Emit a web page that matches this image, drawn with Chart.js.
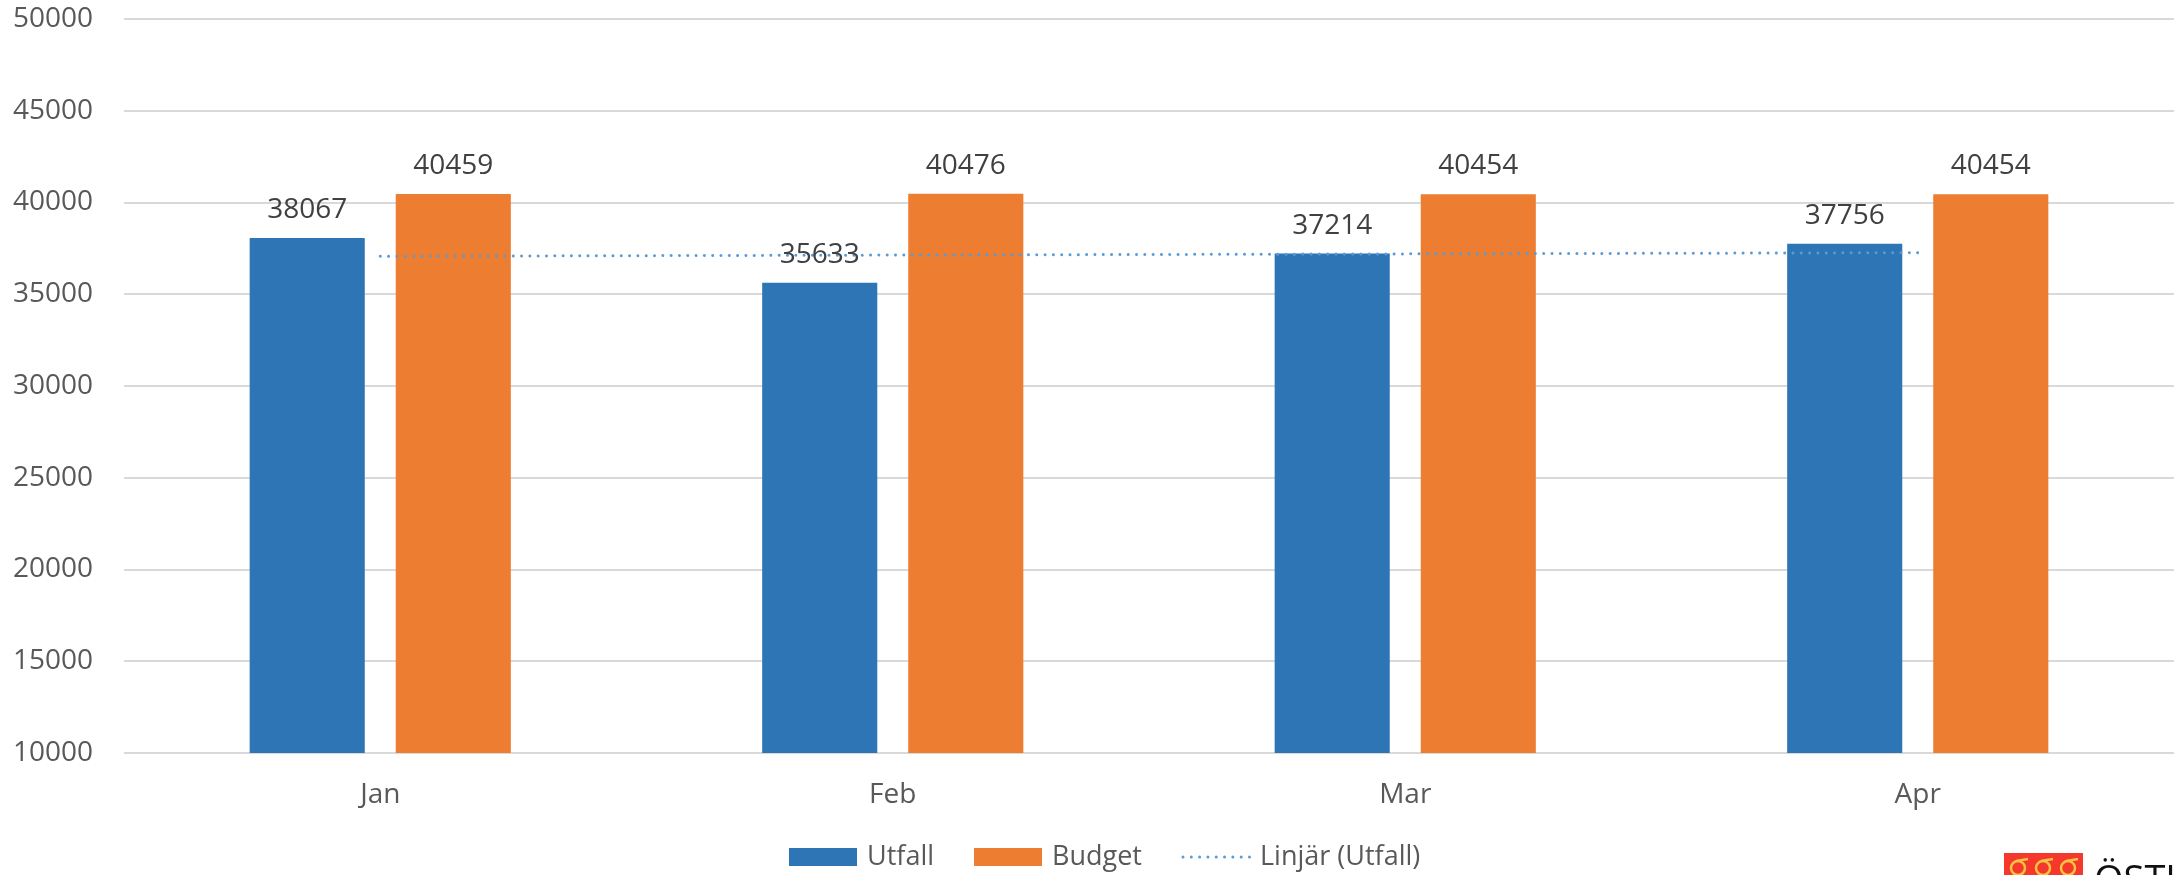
<!DOCTYPE html>
<html>
<head>
<meta charset="utf-8">
<script src="https://cdn.jsdelivr.net/npm/chart.js@4.4.1/dist/chart.umd.min.js"></script>
<style>
    html, body { margin: 0; padding: 0; background: #fff; }
</style>
</head>
<body>
<canvas id="chart" width="2174" height="875"></canvas>
<script>
// data
const months = ['Jan', 'Feb', 'Mar', 'Apr'];
const utfall = [38067, 35633, 37214, 37756];
const budget = [40459, 40476, 40454, 40454];
const trend = [37070, 37135, 37200, 37265];   // Linjär (Utfall)
const seriesNames = ['Utfall', 'Budget', 'Linjär (Utfall)'];
const yTicks = { min: 10000, max: 50000, step: 5000 };

const FONT = "'Open Sans', 'Liberation Sans', sans-serif";

// value labels above the bars
const valueLabels = {
    id: 'valueLabels',
    afterDatasetsDraw(chart) {
        const ctx = chart.ctx;
        ctx.save();
        ctx.font = '28px ' + FONT;
        ctx.fillStyle = '#404040';
        ctx.textAlign = 'center';
        ctx.textBaseline = 'alphabetic';
        [0, 1].forEach((i) => {
            const meta = chart.getDatasetMeta(i);
            const vals = chart.data.datasets[i].data;
            meta.data.forEach((bar, j) => {
                ctx.fillText(vals[j], bar.x, bar.y - 20);
            });
        });
        ctx.restore();
    }
};

// legend drawn by hand so the line item can be dotted
const legendBox = {
    id: 'legendBox',
    afterDraw(chart) {
        const ctx = chart.ctx;
        let x = 789;
        const y = 857;
        ctx.save();
        ctx.font = '27px ' + FONT;
        ctx.textBaseline = 'middle';
        chart.data.datasets.forEach((ds) => {
            if (ds.type === 'line') {
                ctx.strokeStyle = ds.borderColor;
                ctx.lineWidth = 3;
                ctx.lineCap = 'round';
                ctx.setLineDash([0.01, 8.3]);
                ctx.beginPath();
                ctx.moveTo(x + 1, y);
                ctx.lineTo(x + 70, y);
                ctx.stroke();
                ctx.setLineDash([]);
                x += 78;
            } else {
                ctx.fillStyle = ds.backgroundColor;
                ctx.fillRect(x, y - 9, 68, 18);
                x += 78;
            }
            ctx.fillStyle = '#595959';
            ctx.fillText(ds.label, x, y);
            x += ctx.measureText(ds.label).width + 40;
        });
        ctx.restore();
    }
};

// the cut-off logo in the bottom right corner
const logo = {
    id: 'logo',
    afterDraw(chart) {
        const ctx = chart.ctx;
        ctx.save();
        ctx.fillStyle = '#F4382B';
        ctx.fillRect(2004, 853, 79, 30);
        ctx.strokeStyle = '#F5C242';
        ctx.lineWidth = 2.5;
        for (let k = 0; k < 3; k++) {
            const cx = 2018 + k * 25;
            ctx.beginPath();
            ctx.arc(cx, 868, 7, 0, Math.PI * 2);
            ctx.stroke();
            ctx.beginPath();
            ctx.moveTo(cx - 2, 861);
            ctx.lineTo(cx + 10, 859);
            ctx.stroke();
        }
        ctx.fillStyle = '#111';
        ctx.font = '38px ' + FONT;
        ctx.textBaseline = 'alphabetic';
        ctx.fillText('ÖSTH', 2094, 893);
        ctx.restore();
    }
};

const ctx1 = document.getElementById('chart');
const chart1 = new Chart(ctx1, {
    type: 'bar',
    data: {
        labels: months,
        datasets: [
            { type: 'bar', label: seriesNames[0], data: utfall, backgroundColor: '#2E75B6', order: 1,
              categoryPercentage: 0.57, barPercentage: 0.788 },
            { type: 'bar', label: seriesNames[1], data: budget, backgroundColor: '#ED7D31', order: 1,
              categoryPercentage: 0.57, barPercentage: 0.788 },
            { type: 'line', label: seriesNames[2], data: trend, borderColor: '#5B9BD5', borderWidth: 3,
              borderDash: [0.01, 8.3], borderCapStyle: 'round', pointRadius: 0, fill: false, order: 0 }
        ]
    },
    options: {
        responsive: false,
        animation: false,
        devicePixelRatio: 1,
        layout: { padding: { top: 19, right: 0, bottom: 52, left: 0 } },
        plugins: {
            legend: { display: false },
            tooltip: { enabled: false }
        },
        scales: {
            x: {
                grid: { display: false },
                border: { display: false },
                ticks: { color: '#595959', font: { family: FONT, size: 28 }, padding: 17 },
                afterFit: (scale) => { scale.height = 70; }
            },
            y: {
                min: yTicks.min,
                max: yTicks.max,
                grid: { color: '#D9D9D9', lineWidth: 2, drawTicks: false },
                border: { display: false },
                ticks: {
                    stepSize: yTicks.step, color: '#595959', font: { family: FONT, size: 28 }, padding: 31,
                    callback: (v) => String(v)
                },
                afterFit: (scale) => {
                    scale.width = 124;
                    scale.paddingTop = 0;
                    scale.paddingBottom = 0;
                }
            }
        }
    },
    plugins: [valueLabels, legendBox, logo]
});
</script>
</body>
</html>
